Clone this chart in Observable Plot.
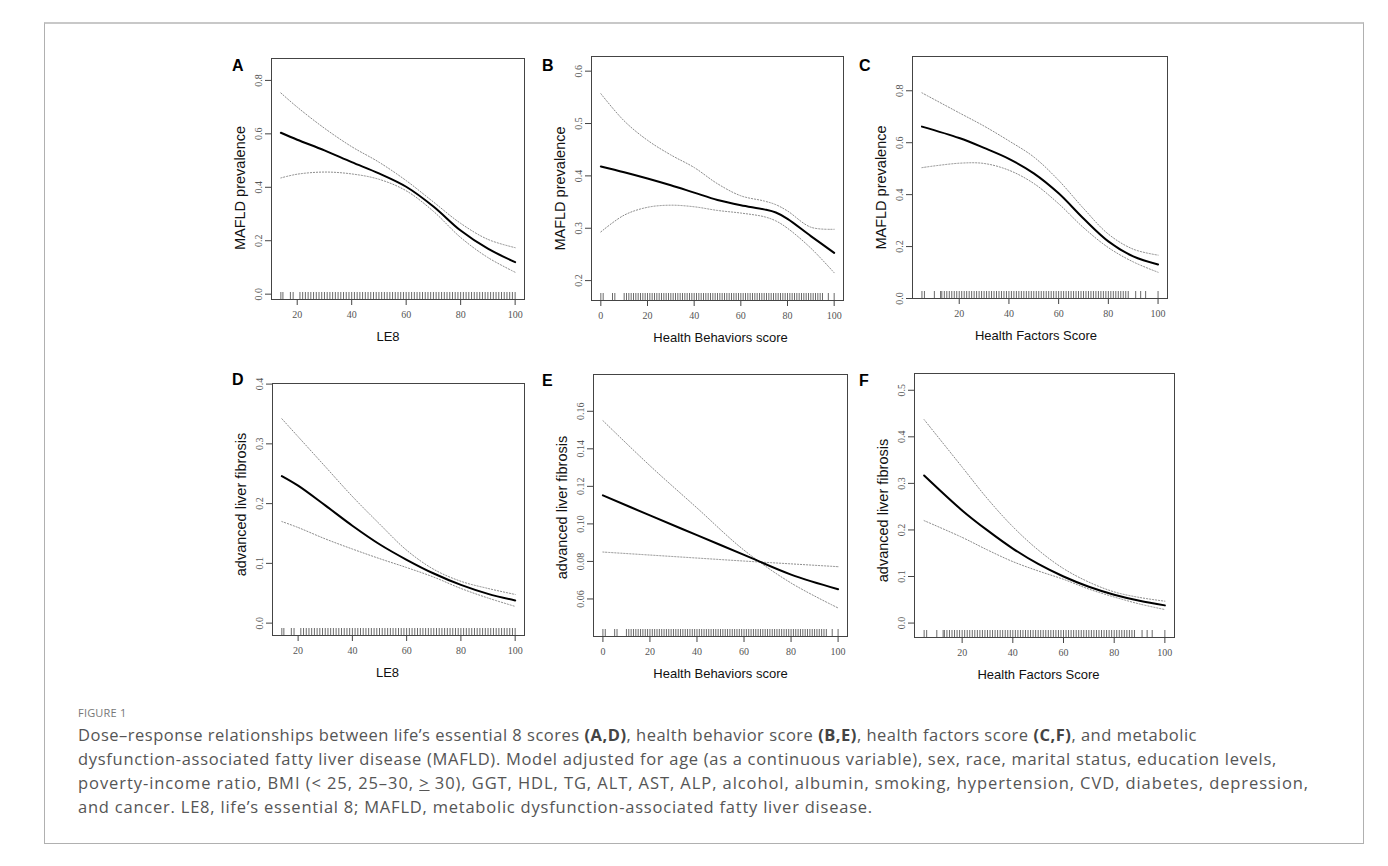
<!DOCTYPE html>
<html><head><meta charset="utf-8">
<script src="https://cdn.jsdelivr.net/npm/d3@7"></script>
<script src="https://cdn.jsdelivr.net/npm/@observablehq/plot@0.6"></script>
<style>
body{margin:0;background:#fff;}
#root{position:relative;width:1388px;height:866px;overflow:hidden;background:#fff;}
#frame{position:absolute;left:44px;top:22px;width:1320px;height:822px;border:1px solid #b0b0b0;border-top:2px solid #c8c8c8;box-sizing:border-box;}
.panel{position:absolute;}
.letter{position:absolute;font:bold 16px "Liberation Sans",Arial,sans-serif;color:#000;line-height:16px;}
#figlabel{position:absolute;left:78px;top:705px;font:11px "Open Sans",sans-serif;color:#777;letter-spacing:0.2px;}
#caption{position:absolute;left:78px;top:723px;font:16.5px/24px "Open Sans",sans-serif;color:#555;white-space:nowrap;}
#caption span{display:block;}
#caption b{color:#444;}
</style></head><body>
<div id="root">
<div id="frame"></div>
<div id="figlabel">FIGURE 1</div>
<div id="caption"><span data-w="1119">Dose–response relationships between life’s essential 8 scores <b>(A,D)</b>, health behavior score <b>(B,E)</b>, health factors score <b>(C,F)</b>, and metabolic</span><span data-w="1199">dysfunction-associated fatty liver disease (MAFLD). Model adjusted for age (as a continuous variable), sex, race, marital status, education levels,</span><span data-w="1231">poverty-income ratio, BMI (&lt; 25, 25–30, <u>&gt;</u> 30), GGT, HDL, TG, ALT, AST, ALP, alcohol, albumin, smoking, hypertension, CVD, diabetes, depression,</span><span data-w="795">and cancer. LE8, life’s essential 8; MAFLD, metabolic dysfunction-associated fatty liver disease.</span></div>
</div>
<script>
// ---- data ----
const xLE8 = [14, 20, 30, 40, 50, 60, 70, 80, 90, 100];
const xHB  = [0, 10, 20, 30, 40, 50, 60, 70, 75, 80, 90, 100];
const xHF  = [5, 20, 30, 40, 50, 60, 70, 80, 90, 100];
const xHBe = [0, 20, 40, 60, 80, 100];

// A: MAFLD vs LE8
const fitA = [0.604, 0.578, 0.538, 0.494, 0.452, 0.402, 0.328, 0.238, 0.170, 0.120];
const hiA  = [0.753, 0.700, 0.621, 0.552, 0.494, 0.425, 0.345, 0.265, 0.205, 0.174];
const loA  = [0.435, 0.449, 0.457, 0.450, 0.430, 0.387, 0.310, 0.212, 0.137, 0.082];
// B: MAFLD vs Health Behaviors
const fitB = [0.418, 0.407, 0.395, 0.382, 0.368, 0.354, 0.344, 0.336, 0.330, 0.318, 0.285, 0.253];
const hiB  = [0.557, 0.505, 0.468, 0.440, 0.416, 0.385, 0.362, 0.352, 0.345, 0.333, 0.302, 0.298];
const loB  = [0.293, 0.325, 0.340, 0.344, 0.341, 0.334, 0.329, 0.322, 0.314, 0.300, 0.262, 0.215];
// C: MAFLD vs Health Factors
const fitC = [0.662, 0.618, 0.580, 0.538, 0.482, 0.405, 0.308, 0.220, 0.162, 0.131];
const hiC  = [0.792, 0.715, 0.664, 0.607, 0.545, 0.455, 0.347, 0.248, 0.190, 0.167];
const loC  = [0.504, 0.521, 0.520, 0.494, 0.443, 0.365, 0.273, 0.196, 0.141, 0.101];
// D: fibrosis vs LE8
const fitD = [0.246, 0.230, 0.197, 0.163, 0.132, 0.106, 0.083, 0.064, 0.049, 0.038];
const hiD  = [0.342, 0.312, 0.262, 0.212, 0.166, 0.122, 0.090, 0.070, 0.058, 0.048];
const loD  = [0.170, 0.160, 0.141, 0.124, 0.108, 0.093, 0.077, 0.058, 0.042, 0.028];
// E: fibrosis vs Health Behaviors
const fitE = [0.1152, 0.1045, 0.0940, 0.0835, 0.0730, 0.0652];
const hiE  = [0.1550, 0.1310, 0.1085, 0.0860, 0.0685, 0.0552];
const loE  = [0.0850, 0.0834, 0.0818, 0.0802, 0.0787, 0.0772];
// F: fibrosis vs Health Factors
const fitF = [0.317, 0.242, 0.199, 0.160, 0.127, 0.100, 0.078, 0.061, 0.048, 0.038];
const hiF  = [0.437, 0.335, 0.267, 0.207, 0.157, 0.117, 0.088, 0.067, 0.055, 0.047];
const loF  = [0.220, 0.184, 0.157, 0.132, 0.112, 0.094, 0.073, 0.056, 0.041, 0.029];

// rug (observed score values)
const rugLE8 = [14,14.75,17.5,18.5,21,22,23,24,25,26,27,28,29,30,31,32,33,34,35,36,37,38,39,40,41,42,43,44,45,46,47,48,49,50,51,52,53,54,55,56,57,58,59,60,61,62,63,64,65,66,67,68,69,70,71,72,73,74,75,76,77,78,79,80,81,82,83,84,85,86,87,88,89,90,91,92,93,94,95,96,97,98,99,100];
const rugHB = [0,1,5,6,10,11,12,13,14,15,16,17,18,19,20,21,22,23,24,25,26,27,28,29,30,31,32,33,34,35,36,37,38,39,40,41,42,43,44,45,46,47,48,49,50,51,52,53,54,55,56,57,58,59,60,61,62,63,64,65,66,67,68,69,70,71,72,73,74,75,76,77,78,79,80,81,82,83,84,85,86,87,88,89,90,91,92,93,94,95,97.5,100];
const rugHF = [5,6,10,12.5,13,14,15,16,17,18,19,20,21,22,23,24,25,26,27,28,29,30,31,32,33,34,35,36,37,38,39,40,41,42,43,44,45,46,47,48,49,50,51,52,53,54,55,56,57,58,59,60,61,62,63,64,65,66,67,68,69,70,71,72,73,74,75,76,77,78,79,80,81,82,83,84,85,86,87,88,91,93,95,100];

// tick values
const xTicks20 = [20, 40, 60, 80, 100];
const xTicks0  = [0, 20, 40, 60, 80, 100];
const yTicksA = [0, 0.2, 0.4, 0.6, 0.8];
const yTicksB = [0.2, 0.3, 0.4, 0.5, 0.6];
const yTicksC = [0, 0.2, 0.4, 0.6, 0.8];
const yTicksD = [0, 0.1, 0.2, 0.3, 0.4];
const yTicksE = [0.06, 0.08, 0.10, 0.12, 0.14, 0.16];
const yTicksF = [0, 0.1, 0.2, 0.3, 0.4, 0.5];

const letters = ["A", "B", "C", "D", "E", "F"];
const xTitles = ["LE8", "Health Behaviors score", "Health Factors Score", "LE8", "Health Behaviors score", "Health Factors Score"];
const yTitles = ["MAFLD prevalence", "MAFLD prevalence", "MAFLD prevalence", "advanced liver fibrosis", "advanced liver fibrosis", "advanced liver fibrosis"];

// ---- layout (positions of plot boxes etc.) ----
const layout = [
  {box: [271, 58, 524, 299],  xd: [10.56, 103.44], yd: [-0.020, 0.882], fmt: ".1f", letter: [232, 58], xdx: -10, ydy: 9},
  {box: [591, 56, 843, 300],  xd: [-4, 104],       yd: [0.162, 0.628],  fmt: ".1f", letter: [542, 58], xdx: 3,   ydy: 10},
  {box: [912, 56, 1167, 298], xd: [1.2, 103.8],    yd: [0, 0.932],      fmt: ".1f", letter: [859, 58], xdx: -4,  ydy: 10},
  {box: [272, 383, 524, 635], xd: [10.56, 103.44], yd: [-0.0207, 0.401],fmt: ".1f", letter: [232, 372], xdx: -11, ydy: -5},
  {box: [593, 374, 847, 636], xd: [-4, 104],       yd: [0.04, 0.1796],  fmt: ".2f", letter: [542, 373], xdx: 0,  ydy: 2},
  {box: [914, 373, 1174, 637],xd: [1.2, 103.8],    yd: [-0.031, 0.536], fmt: ".1f", letter: [859, 373], xdx: -6, ydy: 5}
];

const series = [
  {x: xLE8, fit: fitA, lo: loA, hi: hiA, rug: rugLE8, xt: xTicks20, yt: yTicksA},
  {x: xHB,  fit: fitB, lo: loB, hi: hiB, rug: rugHB,  xt: xTicks0,  yt: yTicksB},
  {x: xHF,  fit: fitC, lo: loC, hi: hiC, rug: rugHF,  xt: xTicks20, yt: yTicksC},
  {x: xLE8, fit: fitD, lo: loD, hi: hiD, rug: rugLE8, xt: xTicks20, yt: yTicksD},
  {x: xHBe, fit: fitE, lo: loE, hi: hiE, rug: rugHB,  xt: xTicks0,  yt: yTicksE},
  {x: xHF,  fit: fitF, lo: loF, hi: hiF, rug: rugHF,  xt: xTicks20, yt: yTicksF}
];

const mL = 52, mR = 12, mT = 14, mB = 50;
const root = document.getElementById("root");
const serif = "'Liberation Serif', 'DejaVu Serif', serif";
const sans = "'Liberation Sans', Arial, sans-serif";

series.forEach((s, i) => {
  const L = layout[i];
  const [bl, bt, br, bb] = L.box;
  const w = br - bl, h = bb - bt;
  const rows = s.x.map((x, j) => ({x, fit: s.fit[j], lo: s.lo[j], hi: s.hi[j]}));
  const fmt = d3.format(L.fmt);
  const chart = Plot.plot({
    width: w + mL + mR,
    height: h + mT + mB,
    marginLeft: mL, marginRight: mR, marginTop: mT, marginBottom: mB,
    style: {background: "transparent", overflow: "visible"},
    x: {domain: L.xd},
    y: {domain: L.yd},
    marks: [
      Plot.ruleX(s.rug, {x: d => d, insetTop: h - 7, stroke: "#6a6a6a", strokeWidth: 1}),
      Plot.line(rows, {x: "x", y: "hi", stroke: "#8a8a8a", strokeWidth: 1, strokeDasharray: "1.2,1.8", curve: "catmull-rom"}),
      Plot.line(rows, {x: "x", y: "lo", stroke: "#8a8a8a", strokeWidth: 1, strokeDasharray: "1.2,1.8", curve: "catmull-rom"}),
      Plot.line(rows, {x: "x", y: "fit", stroke: "#000", strokeWidth: 2, curve: "catmull-rom"}),
      Plot.frame({stroke: "#444", strokeWidth: 1}),
      Plot.axisX({ticks: s.xt, tickSize: 6, tickPadding: 5, tickFormat: d => String(d), label: null,
        fontSize: 10, fontFamily: serif, color: "#555", stroke: "#444"}),
      Plot.axisY({ticks: s.yt, tickSize: 6, tickFormat: () => "", label: null, stroke: "#444"}),
      Plot.text(s.yt, {y: d => d, frameAnchor: "left", text: d => fmt(d), rotate: -90, dx: -13,
        textAnchor: "middle", lineAnchor: "middle", fontSize: 10, fontFamily: serif, fill: "#555"}),
      Plot.text([yTitles[i]], {frameAnchor: "left", rotate: -90, dx: -31, dy: L.ydy,
        textAnchor: "middle", lineAnchor: "middle", fontSize: 14.5, fontFamily: sans, fill: "#111"}),
      Plot.text([xTitles[i]], {frameAnchor: "bottom", dx: L.xdx, dy: 37,
        textAnchor: "middle", lineAnchor: "middle", fontSize: 13, fontFamily: sans, fill: "#111"})
    ]
  });
  const div = document.createElement("div");
  div.className = "panel";
  div.style.left = (bl - mL) + "px";
  div.style.top = (bt - mT) + "px";
  div.appendChild(chart);
  root.appendChild(div);
  const lt = document.createElement("div");
  lt.className = "letter";
  lt.style.left = L.letter[0] + "px";
  lt.style.top = L.letter[1] + "px";
  lt.textContent = letters[i];
  root.appendChild(lt);
});

// fit caption lines to the widths of the original figure
function fitCaption() {
  document.querySelectorAll("#caption span").forEach(sp => {
    sp.style.letterSpacing = "0px";
    sp.style.display = "inline-block";
    const wNow = sp.getBoundingClientRect().width;
    const target = +sp.dataset.w;
    const n = sp.textContent.length;
    sp.style.letterSpacing = ((target - wNow) / n) + "px";
    sp.style.display = "block";
  });
}
fitCaption();
if (document.fonts && document.fonts.ready) document.fonts.ready.then(fitCaption);
</script>
</body></html>
